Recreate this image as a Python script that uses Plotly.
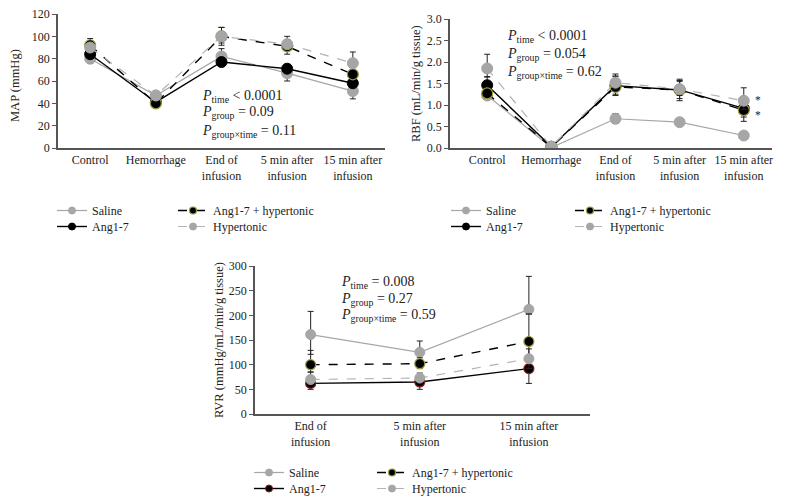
import plotly.graph_objects as go

W, H = 785, 503
FONT = "Liberation Serif"

# ---------------- data ----------------
series_names = ["Saline", "Ang1-7", "Ang1-7 + hypertonic", "Hypertonic"]

cats5 = ["Control", "Hemorrhage", "End of<br>infusion", "5 min after<br>infusion", "15 min after<br>infusion"]
cats3 = ["End of<br>infusion", "5 min after<br>infusion", "15 min after<br>infusion"]

# MAP (mmHg)
map_saline = [80, 47, 82, 67, 51]
map_ang = [84, 41, 77, 71, 58]
map_angh = [92, 40, 100, 91, 66]
map_hyp = [90, 47, 100, 93, 76]
map_saline_up = [3, 2, 7, 3, 3]
map_saline_dn = [4, 2, 3, 7, 7]
map_ang_up = [3, 2, 3, 4, 3]
map_ang_dn = [3, 2, 4, 3, 3]
map_angh_up = [6, 2, 8, 6, 4]
map_angh_dn = [4, 2, 8, 7, 4]
map_hyp_up = [4, 2, 8, 7, 10]
map_hyp_dn = [4, 2, 6, 4, 4]

# RBF (mL/min/g tissue)
rbf_saline = [1.22, 0.01, 0.68, 0.60, 0.29]
rbf_ang = [1.46, 0.03, 1.45, 1.35, 0.92]
rbf_angh = [1.27, 0.02, 1.42, 1.35, 0.88]
rbf_hyp = [1.85, 0.03, 1.52, 1.37, 1.10]
rbf_saline_up = [0.05, 0.01, 0.12, 0.03, 0.03]
rbf_saline_dn = [0.05, 0.01, 0.11, 0.03, 0.03]
rbf_ang_up = [0.20, 0.02, 0.22, 0.22, 0.20]
rbf_ang_dn = [0.15, 0.02, 0.20, 0.20, 0.20]
rbf_angh_up = [0.10, 0.02, 0.25, 0.20, 0.20]
rbf_angh_dn = [0.10, 0.02, 0.20, 0.25, 0.26]
rbf_hyp_up = [0.33, 0.02, 0.20, 0.23, 0.30]
rbf_hyp_dn = [0.20, 0.02, 0.15, 0.15, 0.20]

# RVR (mmHg/mL/min/g tissue)
rvr_saline = [161, 125, 212]
rvr_ang = [62, 65, 92]
rvr_angh = [100, 102, 147]
rvr_hyp = [70, 73, 112]
rvr_saline_up = [47, 23, 67]
rvr_saline_dn = [40, 15, 10]
rvr_ang_up = [10, 8, 20]
rvr_ang_dn = [12, 15, 30]
rvr_angh_up = [29, 12, 56]
rvr_angh_dn = [15, 10, 30]
rvr_hyp_up = [15, 10, 20]
rvr_hyp_dn = [10, 10, 20]

# P-value texts
p_map = ["<i>P</i><sub>time</sub> < 0.0001", "<i>P</i><sub>group</sub> = 0.09", "<i>P</i><sub>group×time</sub> = 0.11"]
p_rbf = ["<i>P</i><sub>time</sub> < 0.0001", "<i>P</i><sub>group</sub> = 0.054", "<i>P</i><sub>group×time</sub> = 0.62"]
p_rvr = ["<i>P</i><sub>time</sub> = 0.008", "<i>P</i><sub>group</sub> = 0.27", "<i>P</i><sub>group×time</sub> = 0.59"]

# ---------------- styles ----------------
GRAY = "#a6a6a6"
styles = {
    "Saline": dict(line=dict(color=GRAY, width=1.2, dash="solid"), marker=dict(color=GRAY, line=dict(color=GRAY, width=1))),
    "Ang1-7": dict(line=dict(color="black", width=1.4, dash="solid"), marker=dict(color="black", line=dict(color="black", width=1))),
    "Ang1-7 + hypertonic": dict(line=dict(color="black", width=1.4, dash="dash"), marker=dict(color="black", line=dict(color="#9c9a3a", width=1.2))),
    "Hypertonic": dict(line=dict(color="#b3b3b3", width=1.2, dash="dash"), marker=dict(color=GRAY, line=dict(color=GRAY, width=1))),
}


def px(x):
    return x / W


def py(y):
    return 1 - y / H


fig = go.Figure()

panels = [
    dict(xa="x", ya="y", xd=(58, 385), yd=(14, 148), cats=cats5, xr=[-0.49, 4.49], yr=[0, 120], dt=20,
         data={"Saline": (map_saline, map_saline_up, map_saline_dn),
               "Ang1-7": (map_ang, map_ang_up, map_ang_dn),
               "Ang1-7 + hypertonic": (map_angh, map_angh_up, map_angh_dn),
               "Hypertonic": (map_hyp, map_hyp_up, map_hyp_dn)},
         legx=(52, 173), legy=(196, 212), msize=11, fmt=None),
    dict(xa="x2", ya="y2", xd=(450, 772), yd=(19, 148), cats=cats5, xr=[-0.58, 4.44], yr=[0, 3], dt=0.5,
         data={"Saline": (rbf_saline, rbf_saline_up, rbf_saline_dn),
               "Ang1-7": (rbf_ang, rbf_ang_up, rbf_ang_dn),
               "Ang1-7 + hypertonic": (rbf_angh, rbf_angh_up, rbf_angh_dn),
               "Hypertonic": (rbf_hyp, rbf_hyp_up, rbf_hyp_dn)},
         legx=(446, 570), legy=(196, 212), msize=11, fmt=".1f"),
    dict(xa="x3", ya="y3", xd=(255, 590), yd=(266, 414), cats=cats3, xr=[-0.51, 2.56], yr=[0, 300], dt=50,
         data={"Saline": (rvr_saline, rvr_saline_up, rvr_saline_dn),
               "Ang1-7": (rvr_ang, rvr_ang_up, rvr_ang_dn),
               "Ang1-7 + hypertonic": (rvr_angh, rvr_angh_up, rvr_angh_dn),
               "Hypertonic": (rvr_hyp, rvr_hyp_up, rvr_hyp_dn)},
         legx=(249, 372), legy=(458, 474), msize=10, fmt=None),
]

# legend grid: (column, row) of each series
leg_cell = {"Saline": (0, 0), "Ang1-7 + hypertonic": (1, 0), "Ang1-7": (0, 1), "Hypertonic": (1, 1)}

draw_order = ["Saline", "Ang1-7", "Ang1-7 + hypertonic", "Hypertonic"]
legend_layouts = {}
leg_base = dict(orientation="v", xanchor="left", yanchor="top", bgcolor="rgba(0,0,0,0)",
                font=dict(family=FONT, size=12, color="#222222"), tracegroupgap=0, itemwidth=30)
leg_counter = 0
for i, p in enumerate(panels):
    for name in draw_order:
        vals, up, dn = p["data"][name]
        st = styles[name]
        mk = dict(st["marker"], size=p["msize"])
        if i == 2 and name == "Ang1-7":
            mk = dict(mk, line=dict(color="#8b1a1a", width=1.2))
        fig.add_trace(go.Scatter(
            x=list(range(len(vals))), y=vals, mode="lines+markers", name=name,
            line=st["line"], marker=mk, xaxis=p["xa"], yaxis=p["ya"],
            error_y=dict(type="data", symmetric=False, array=up, arrayminus=dn,
                         color="#222222", thickness=1, width=3),
            showlegend=False, hoverinfo="skip",
        ))
    # legend entries (small symbols, like the reference), one legend box per entry
    for name in series_names:
        leg_counter += 1
        lid = "legend" if leg_counter == 1 else "legend%d" % leg_counter
        st = styles[name]
        mk = dict(st["marker"], size=7)
        if i == 2 and name == "Ang1-7":
            mk = dict(mk, line=dict(color="#8b1a1a", width=1))
        fig.add_trace(go.Scatter(
            x=[None], y=[None], mode="lines+markers", name=name, line=st["line"], marker=mk,
            xaxis=p["xa"], yaxis=p["ya"], legend=lid, showlegend=True,
        ))
        c, r = leg_cell[name]
        legend_layouts[lid] = dict(leg_base, x=px(p["legx"][c]), y=py(p["legy"][r]))

axis_common = dict(showline=True, linecolor="#555555", linewidth=1.5, showgrid=False, zeroline=False,
                   tickfont=dict(family=FONT, size=12, color="#222222"))
layout = dict(width=W, height=H, margin=dict(l=0, r=0, t=0, b=0, autoexpand=False),
              paper_bgcolor="white", plot_bgcolor="white", font=dict(family=FONT, size=12, color="#222222"))

for i, p in enumerate(panels):
    suf = "" if i == 0 else str(i + 1)
    layout["xaxis" + suf] = dict(axis_common, domain=[px(p["xd"][0]), px(p["xd"][1])], range=p["xr"],
                                 tickvals=list(range(len(p["cats"]))), ticktext=p["cats"], ticks="",
                                 anchor="y" + suf)
    ya = dict(axis_common, domain=[py(p["yd"][1]), py(p["yd"][0])], range=p["yr"], dtick=p["dt"],
              tick0=0, ticks="outside", ticklen=4, tickcolor="#555555", anchor="x" + suf)
    if p["fmt"]:
        ya["tickformat"] = p["fmt"]
    layout["yaxis" + suf] = ya

layout.update(legend_layouts)
fig.update_layout(**layout)

# y-axis titles
ytitles = [("MAP (mmHg)", 15, 86), ("RBF (mL/min/g tissue)", 416, 84), ("RVR (mmHg/mL/min/g tissue)", 219, 340)]
for t, x, y in ytitles:
    fig.add_annotation(text=t, x=px(x), y=py(y), xref="paper", yref="paper", textangle=-90,
                       showarrow=False, font=dict(family=FONT, size=12.5, color="#222222"),
                       xanchor="center", yanchor="middle")

# P-value annotations
for texts, x0, ys in [(p_map, 200, [96, 113, 131]), (p_rbf, 505, [37, 54, 73]), (p_rvr, 339, [282, 299, 315])]:
    for t, y in zip(texts, ys):
        fig.add_annotation(text=t, x=px(x0), y=py(y), xref="paper", yref="paper", showarrow=False,
                           font=dict(family=FONT, size=14, color="#222222"), xanchor="left", yanchor="middle")

# asterisks on RBF panel
fig.add_annotation(text="*<br>*", x=px(758), y=py(108), xref="paper", yref="paper", showarrow=False,
                   font=dict(family=FONT, size=11.5, color="#222222"), xanchor="center", yanchor="middle")

fig.write_html("out.html", config={"displayModeBar": False},
               post_script="document.body.style.margin='0px';")
